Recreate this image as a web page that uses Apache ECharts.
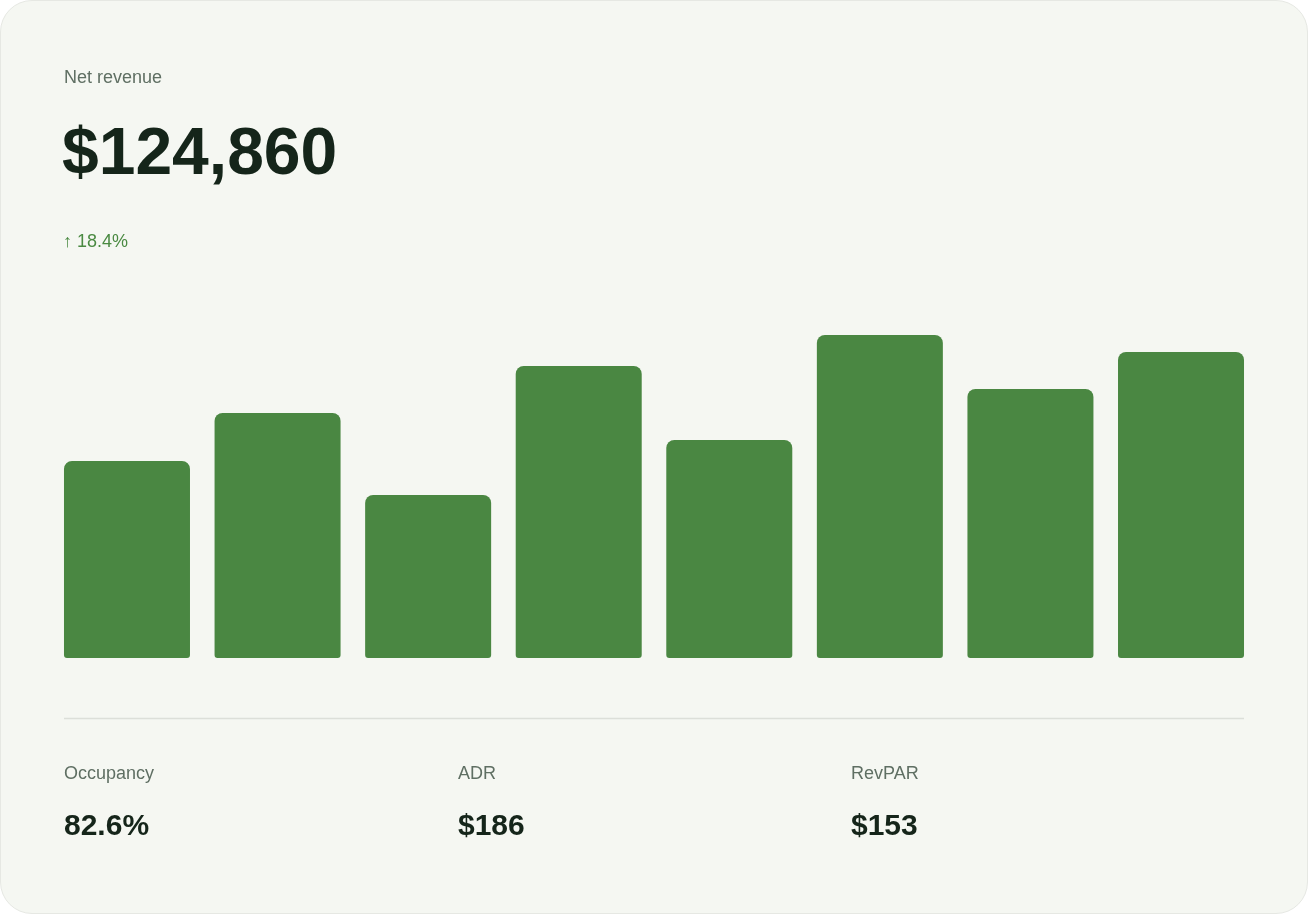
<!DOCTYPE html>
<html><head><meta charset="utf-8">
<script src="https://cdn.jsdelivr.net/npm/echarts@6/dist/echarts.min.js"></script>
<style>
html,body{margin:0;padding:0;background:#fff;}
#card{position:absolute;left:0;top:0;width:1306px;height:912px;background:#f5f7f2;border:1px solid #e6e8e3;border-radius:32px;}
#c{position:absolute;left:0;top:0;width:1308px;height:914px;}
</style></head><body>
<div id="card"></div><div id="c"></div>
<script>
const categories = ['1','2','3','4','5','6','7','8'];
const revenue = [197, 245, 163, 292, 218, 323, 269, 306];
const kpiLabels = ['Occupancy','ADR','RevPAR'];
const kpiValues = ['82.6%','$186','$153'];
const title = 'Net revenue', total = '$124,860', change = '↑ 18.4%';

const ch = echarts.init(document.getElementById('c'));
const font = '"Liberation Sans", Arial, sans-serif';
const g = [
  {type:'text',left:64,top:69,style:{text:title,font:'18px '+font,fill:'#5f6f63'}},
  {type:'text',left:62,top:123,style:{text:total,font:'bold 66px '+font,fill:'#15251a'}},
  {type:'text',left:63,top:233,style:{text:change,font:'18px '+font,fill:'#4a8a42'}},
  {type:'line',shape:{x1:64,y1:718.5,x2:1244,y2:718.5},style:{stroke:'#dcdfd9',lineWidth:1.5}}
];
const xs=[64,458,851];
kpiLabels.forEach((l,i)=>{
  g.push({type:'text',left:xs[i],top:765,style:{text:l,font:'18px '+font,fill:'#5f6f63'}});
  g.push({type:'text',left:xs[i],top:812,style:{text:kpiValues[i],font:'bold 30px '+font,fill:'#15251a'}});
});
ch.setOption({
  animation:false,
  grid:{left:51.7,width:1204.6,top:318,bottom:914-658},
  xAxis:{type:'category',data:categories,show:false},
  yAxis:{type:'value',min:0,max:340,show:false},
  series:[{type:'bar',data:revenue,barWidth:126,itemStyle:{color:'#4a8742',borderRadius:[8,8,3,3]}}],
  graphic:g
});
</script></body></html>
